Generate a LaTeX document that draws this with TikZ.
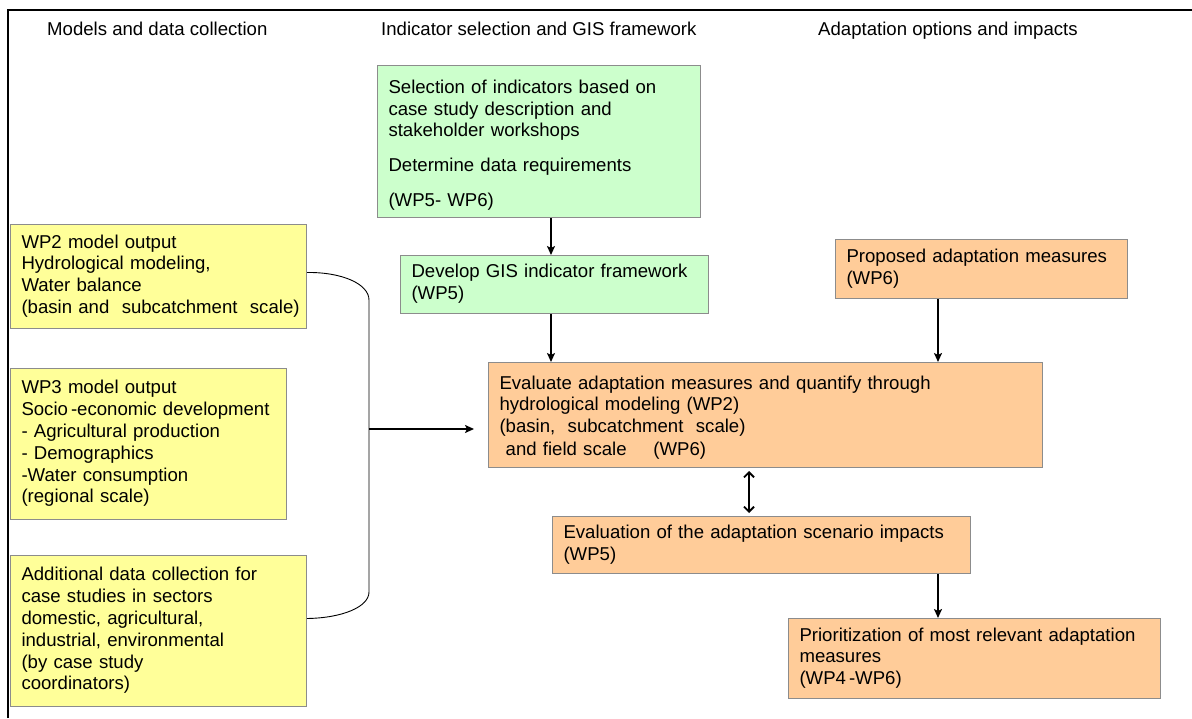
\documentclass[tikz,border=0pt]{standalone}
\usepackage{fontspec}
\setmainfont{Liberation Sans}
\usetikzlibrary{arrows.meta}
\definecolor{ybox}{HTML}{FFFF99}
\definecolor{gbox}{HTML}{CCFFCC}
\definecolor{obox}{HTML}{FFCC99}
\definecolor{boxedge}{HTML}{8C8C8C}
\newcommand{\bxl}[1]{\begin{tabular}{@{}l@{}}#1\end{tabular}}
\begin{document}
\begin{tikzpicture}[x=1pt,y=-1pt,
  every node/.style={font=\fontsize{18.6}{21.8}\selectfont},
  box/.style={draw=boxedge, line width=1pt, anchor=north west, align=left, inner xsep=11pt, inner ysep=0pt},
  head/.style={anchor=base west, inner sep=0pt},
  arr/.style={line width=2pt, -{Stealth[length=9pt,width=8pt,inset=2pt]}},
  darr/.style={line width=1.8pt, {Straight Barb[length=5pt,width=10pt]}-{Straight Barb[length=5pt,width=10pt]}},
  link/.style={line width=0.9pt}]
\useasboundingbox (0,0) rectangle (1192,718);
\fill[white] (0,0) rectangle (1192,718);
% frame
\draw[line width=1.5pt] (8,718) -- (8,10) -- (1192,10);
% headers
\node[head] (h1) at (47,35) {Models and data collection};
\node[head] (h2) at (381,35) {Indicator selection and GIS framework};
\node[head] (h3) at (818,35) {Adaptation options and impacts};
% left column
\node[box, fill=ybox, text width=274pt, minimum height=104pt] (y1) at (10,224)
  {\bxl{WP2 model output\\Hydrological modeling,\\Water balance\\(basin and\ \ subcatchment\ \ scale)}};
\node[box, fill=ybox, text width=254pt, minimum height=151pt] (y2) at (10,368)
  {\bxl{WP3 model output\\Socio\kern3pt-economic development\\- Agricultural production\\- Demographics\\-Water consumption\\(regional scale)}};
\node[box, fill=ybox, text width=274pt, minimum height=151pt] (y3) at (10,555)
  {\bxl{Additional data collection for\\case studies in sectors\\domestic, agricultural,\\industrial, environmental\\(by case study\\coordinators)}};
% middle
\node[box, fill=gbox, text width=301pt, minimum height=152pt] (g1) at (377,65)
  {\bxl{\rule{0pt}{23.3pt}Selection of indicators based on\\case study description and\\stakeholder workshops\\[13pt]Determine data requirements\\[13pt](WP5- WP6)}};
\node[box, fill=gbox, text width=286pt, minimum height=58pt] (g2) at (400,255)
  {\bxl{Develop GIS indicator framework\\(WP5)}};
% right
\node[box, fill=obox, text width=270pt, minimum height=59pt] (p) at (835,239)
  {\bxl{Proposed adaptation measures\\(WP6)}};
\node[box, fill=obox, text width=532pt, minimum height=105pt] (e) at (488,362)
  {\bxl{\rule{0pt}{21.3pt}Evaluate adaptation measures and quantify through\\hydrological modeling (WP2)\\(basin,\ \ subcatchment\ \ scale)\\[1pt]\makebox[154pt][l]{\ and field scale}(WP6)}};
\node[box, fill=obox, text width=396pt, minimum height=57pt] (s) at (552,516)
  {\bxl{Evaluation of the adaptation scenario impacts\\(WP5)}};
\node[box, fill=obox, text width=350pt, minimum height=80pt] (r) at (788,618)
  {\bxl{Prioritization of most relevant adaptation\\measures\\(WP4\kern3pt-WP6)}};
% connector coordinates
\coordinate (xa) at (551,0);
\coordinate (xb) at (938,0);
\coordinate (xd) at (749,0);
\coordinate (jt) at (369,300);
\coordinate (jm) at (369,429);
\coordinate (jb) at (369,592);
% bracket
\draw[link] ([yshift=4pt]y1.east) .. controls (342,272) and (369,284) .. (jt) -- (jb)
  .. controls (369,607) and (342,618) .. ([yshift=12.5pt]y3.east);
\draw[arr, shorten >=14pt] (jm) -- (jm -| e.west);
% arrows
\draw[arr] (g1.south -| xa) -- (g2.north -| xa);
\draw[arr] (g2.south -| xa) -- (e.north -| xa);
\draw[arr] (p.south -| xb) -- (e.north -| xb);
\draw[darr, shorten <=3pt, shorten >=3pt] (e.south -| xd) -- (s.north -| xd);
\draw[arr] (s.south -| xb) -- (r.north -| xb);
\end{tikzpicture}
\end{document}
